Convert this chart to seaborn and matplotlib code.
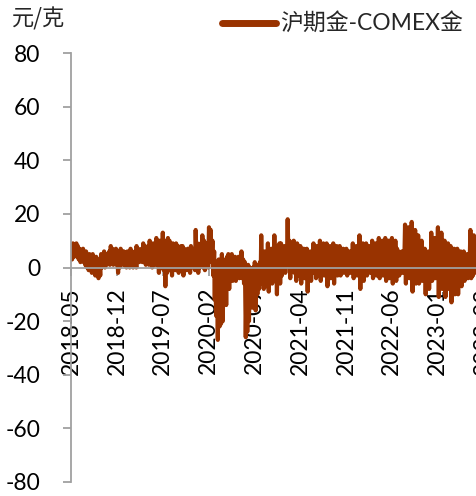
import matplotlib
matplotlib.use('Agg')
import matplotlib.pyplot as plt
import seaborn as sns
import pandas as pd
from matplotlib.lines import Line2D

# ---- data (8 points per month) ----
month_starts = pd.date_range('2018-05-01', '2023-07-01', freq='MS')
point_offsets_days = [1, 5, 9, 13, 17, 21, 25, 28]

values_2018 = [
    7, 3, 9, 4, 8, 5, 9, 4,        # May
    8, 3, 7, 2, 6, 3, 7, 2,        # Jun
    5, 1, 6, 0, 4, -1, 5, 1,       # Jul
    4, -2, 5, -1, 3, -3, 4, 0,     # Aug
    3, -4, 2, -3, 5, 0, 4, 1,      # Sep
    6, 0, 5, 1, 4, 2, 6, 1,        # Oct
    8, 3, 7, 1, 6, 2, 7, 1,        # Nov
    6, -2, 5, 0, 7, 2, 6, 1,       # Dec
]
values_2019 = [
    6, 1, 5, 0, 6, 2, 5, 0,
    7, 2, 6, 0, 5, 1, 6, 0,
    8, 3, 7, 2, 6, 3, 7, 2,
    9, 2, 8, 1, 7, 3, 8, 1,
    10, 3, 8, 0, 9, 2, 8, 1,
    11, 1, 9, -2, 10, 0, 9, 1,
    13, -1, 10, -7, 9, -2, 11, 0,
    10, -1, 8, -3, 9, 0, 8, -1,
    9, 0, 8, -2, 7, 1, 8, 0,
    8, -3, 7, 1, 6, -1, 7, 0,
    6, -2, 8, 0, 7, 1, 6, -1,
    14, 2, 9, -2, 8, 0, 9, 1,
]
values_2020 = [
    12, 0, 10, -1, 8, 1, 9, 0,
    15, 3, 14, 2, 10, -3, 6, -12,
    2, -18, -1, -27, 3, -22, -2, -21,
    5, -20, 2, -12, 3, -14, 4, -8,
    5, -8, 4, -3, 5, -5, 3, -2,
    4, -5, 3, -2, 4, -4, 2, -3,
    6, -4, 3, -6, 2, -26, -5, -24,
    1, -20, 0, -14, -2, -15, 0, -14,
    2, -16, 1, -10, 0, -8, 2, -6,
    12, -6, 5, -8, 6, -4, 4, -7,
    9, -9, 6, -4, 7, -6, 5, -3,
    12, -5, 8, -10, 7, -3, 9, -6,
]
values_2021 = [
    9, -3, 7, 0, 8, -2, 6, 1,
    18, 2, 10, -4, 9, -1, 8, 0,
    10, -2, 8, -5, 9, -3, 7, -1,
    8, -6, 6, -2, 7, -4, 6, -3,
    7, -9, 5, -3, 6, -5, 5, -2,
    9, -1, 7, -4, 8, -2, 6, -3,
    10, -5, 8, 0, 9, -3, 7, -1,
    9, -7, 6, -2, 8, -4, 6, -3,
    9, -6, 7, 0, 8, -3, 6, -2,
    8, -3, 6, -1, 7, -2, 5, 0,
    7, -3, 5, 0, 6, -2, 5, -1,
    9, -4, 6, -1, 8, -3, 6, 0,
]
values_2022 = [
    12, -8, 8, -2, 9, -5, 7, -1,
    9, -3, 7, 0, 8, -2, 6, -1,
    10, -4, 8, -2, 9, -3, 7, 0,
    11, -4, 9, -1, 10, -3, 8, -2,
    11, -5, 8, -2, 10, -4, 7, -1,
    11, -6, 9, -3, 10, -5, 7, -2,
    6, -3, 5, 0, 6, -2, 4, -1,
    16, -6, 14, -2, 15, -4, 12, -3,
    17, -9, 12, -4, 14, -6, 10, -3,
    12, -6, 8, -3, 10, -5, 7, -2,
    7, -10, 5, -6, 6, -8, 4, -4,
    13, -5, 10, -2, 11, -4, 9, -1,
]
values_2023 = [
    15, -11, 12, -4, 13, -8, 10, -3,
    10, -11, 8, -6, 9, -8, 7, -4,
    8, -13, 6, -8, 7, -10, 5, -6,
    7, -10, 5, -4, 6, -7, 4, -3,
    6, -5, 4, -2, 5, -4, 3, -1,
    14, -4, 10, -3, 12, -2, 9, -1,
    10, -3, 12, -2, 11, -1, 9, 0,
]

series_name = '沪期金-COMEX金'
unit_label = '元/克'
x_tick_dates = ['2018-05-01', '2018-12-01', '2019-07-01', '2020-02-01', '2020-09-01',
                '2021-04-01', '2021-11-01', '2022-06-01', '2023-01-01', '2023-08-01']
x_tick_labels = ['2018-05', '2018-12', '2019-07', '2020-02', '2020-09',
                 '2021-04', '2021-11', '2022-06', '2023-01', '2023-08']
y_ticks = [-80, -60, -40, -20, 0, 20, 40, 60, 80]

values = values_2018 + values_2019 + values_2020 + values_2021 + values_2022 + values_2023
dates = [m + pd.Timedelta(days=d) for m in month_starts for d in point_offsets_days]
df = pd.DataFrame({'date': dates, 'value': values})

# ---- style ----
sns.set_theme(style='white')
plt.rcParams['font.family'] = ['Lato', 'Noto Sans CJK SC', 'DejaVu Sans']

W, H = 477, 496
fig = plt.figure(figsize=(W / 100, H / 100), dpi=100)
x0 = pd.Timestamp('2018-05-01')
x1 = pd.Timestamp('2023-09-15')
px_per_day = 46 / 214.0
ax_w_px = (x1 - x0).days * px_per_day
ax = fig.add_axes([71 / W, 1 - 482 / H, ax_w_px / W, (482 - 53) / H])

color = '#993300'
sns.lineplot(data=df, x='date', y='value', ax=ax, color=color, linewidth=3.0,
             solid_joinstyle='round', solid_capstyle='round', legend=False)

ax.set_xlim(x0, x1)
ax.set_ylim(-80, 80)
ax.set_xlabel('')
ax.set_ylabel('')

for s in ['top', 'right']:
    ax.spines[s].set_visible(False)
axis_gray = '#a0a0a0'
ax.spines['left'].set_color(axis_gray)
ax.spines['left'].set_linewidth(1.3)
ax.spines['bottom'].set_color(axis_gray)
ax.spines['bottom'].set_linewidth(1.3)
ax.spines['bottom'].set_position(('data', 0))

ax.set_yticks(y_ticks)
ax.set_yticklabels([str(v) for v in y_ticks])
ax.set_xticks(pd.to_datetime(x_tick_dates))
ax.set_xticklabels(x_tick_labels, rotation=90)

ax.tick_params(axis='y', direction='out', length=6, width=1.3, color=axis_gray,
               pad=16, labelsize=16.5, labelcolor='black', left=True)
ax.tick_params(axis='x', direction='out', length=6, width=1.3, color=axis_gray,
               pad=8, labelsize=16.5, labelcolor='black', bottom=True)

# unit label
fig.text(12 / W, 1 - 19 / H, unit_label, fontsize=16, va='center', ha='left',
         family=['Noto Sans CJK SC', 'DejaVu Sans'])

# legend (manual, top right)
fig.add_artist(Line2D([222 / W, 276 / W], [1 - 23 / H, 1 - 23 / H], color=color,
                      linewidth=5, solid_capstyle='round', transform=fig.transFigure))
fig.text(280 / W, 1 - 23 / H, series_name, fontsize=16.5, va='center', ha='left',
         family=['Lato', 'Noto Sans CJK SC', 'DejaVu Sans'])

fig.savefig('out.png', dpi=100)
